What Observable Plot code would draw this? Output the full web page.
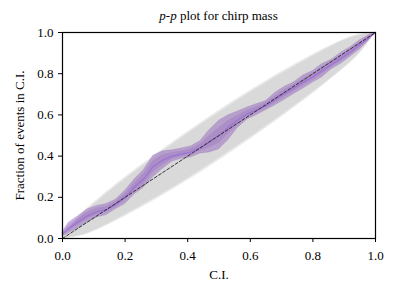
<!DOCTYPE html>
<html>
<head>
<meta charset="utf-8">
<script src="https://cdn.jsdelivr.net/npm/d3@7"></script>
<script src="https://cdn.jsdelivr.net/npm/@observablehq/plot@0.6"></script>
<style>
  body { margin: 0; background: white; font-family: "Liberation Serif", serif; }
  #title { height: 26px; box-sizing: border-box; padding-top: 7px; line-height: 18px; font-size: 13px; margin-left: 62px; width: 313px; text-align: center; color: #000; }
</style>
</head>
<body>
<div id="title"><i>p</i>-<i>p</i> plot for chirp mass</div>
<div id="chart"></div>
<script>
// Confidence band (grey)
const bandX      = [0, 0.05, 0.1, 0.2, 0.3, 0.4, 0.5, 0.6, 0.7, 0.8, 0.9, 0.95, 1];
const outerLo    = [0, 0.005, 0.03, 0.105, 0.19, 0.28, 0.378, 0.48, 0.59, 0.70, 0.825, 0.89, 1];
const outerHi    = [0, 0.11, 0.175, 0.30, 0.41, 0.52, 0.622, 0.72, 0.81, 0.895, 0.97, 0.995, 1];
const innerLo    = [0, 0.01, 0.035, 0.115, 0.20, 0.29, 0.39, 0.49, 0.60, 0.71, 0.83, 0.895, 1];
const innerHi    = [0, 0.10, 0.165, 0.29, 0.40, 0.51, 0.61, 0.71, 0.80, 0.885, 0.965, 0.99, 1];

// p-p curve (purple) with its spread
const ppX   = [0, 0.02, 0.05, 0.08, 0.11, 0.14, 0.17, 0.2, 0.23, 0.26, 0.29, 0.32, 0.35, 0.38, 0.41, 0.44, 0.47, 0.5, 0.53, 0.56, 0.59, 0.62, 0.65, 0.68, 0.71, 0.74, 0.77, 0.8, 0.83, 0.86, 0.89, 0.92, 0.95, 0.98, 1];
const ppMid = [0.02, 0.05, 0.08, 0.11, 0.13, 0.14, 0.165, 0.2, 0.25, 0.29, 0.35, 0.38, 0.40, 0.41, 0.42, 0.44, 0.47, 0.50, 0.54, 0.575, 0.605, 0.625, 0.645, 0.675, 0.705, 0.73, 0.76, 0.785, 0.815, 0.845, 0.875, 0.905, 0.94, 0.975, 1];
const ppLo  = [0.008, 0.025, 0.05, 0.078, 0.102, 0.113, 0.142, 0.168, 0.213, 0.247, 0.298, 0.337, 0.372, 0.387, 0.393, 0.412, 0.418, 0.432, 0.478, 0.537, 0.577, 0.598, 0.622, 0.647, 0.673, 0.702, 0.728, 0.757, 0.783, 0.822, 0.848, 0.882, 0.918, 0.962, 1];
const ppHi  = [0.032, 0.077, 0.108, 0.142, 0.158, 0.167, 0.188, 0.232, 0.287, 0.333, 0.402, 0.423, 0.428, 0.437, 0.447, 0.472, 0.527, 0.571, 0.598, 0.617, 0.636, 0.652, 0.668, 0.707, 0.737, 0.758, 0.792, 0.813, 0.847, 0.868, 0.902, 0.928, 0.962, 0.988, 1];
const ppLo2 = [0.014, 0.037, 0.064, 0.094, 0.114, 0.127, 0.152, 0.184, 0.23, 0.265, 0.322, 0.355, 0.384, 0.397, 0.406, 0.424, 0.44, 0.462, 0.507, 0.553, 0.588, 0.611, 0.631, 0.658, 0.688, 0.713, 0.743, 0.768, 0.798, 0.831, 0.861, 0.891, 0.929, 0.968, 1];
const ppHi2 = [0.026, 0.064, 0.097, 0.127, 0.147, 0.154, 0.179, 0.217, 0.27, 0.315, 0.378, 0.405, 0.417, 0.424, 0.434, 0.457, 0.5, 0.538, 0.573, 0.597, 0.622, 0.639, 0.659, 0.692, 0.722, 0.747, 0.777, 0.802, 0.832, 0.859, 0.889, 0.919, 0.951, 0.982, 1];

const diagX = [0, 1];
const ticks = [0, 0.2, 0.4, 0.6, 0.8, 1.0];

const band = bandX.map((x, i) => ({x, olo: outerLo[i], ohi: outerHi[i], ilo: innerLo[i], ihi: innerHi[i]}));
const pp = ppX.map((x, i) => ({x, mid: ppMid[i], lo: ppLo[i], hi: ppHi[i], lo2: ppLo2[i], hi2: ppHi2[i]}));
const diag = diagX.map(v => ({x: v, y: v}));
const fmt = d3.format(".1f");

const chart = Plot.plot({
  width: 397,
  height: 270,
  marginLeft: 62,
  marginRight: 22,
  marginTop: 6,
  marginBottom: 58,
  style: {fontFamily: "Liberation Serif, serif", fontSize: "13px", color: "black", background: "white", overflow: "visible"},
  x: {domain: [0, 1]},
  y: {domain: [0, 1]},
  marks: [
    Plot.areaY(band, {x: "x", y1: "olo", y2: "ohi", fill: "#e9e9e9", curve: "basis"}),
    Plot.areaY(band, {x: "x", y1: "ilo", y2: "ihi", fill: "#d9d9d9", curve: "basis"}),
    Plot.areaY(pp, {x: "x", y1: "lo", y2: "hi", fill: "#9467bd", fillOpacity: 0.5, stroke: "#9467bd", strokeOpacity: 0.35, strokeWidth: 0.6, curve: "linear"}),
    Plot.areaY(pp, {x: "x", y1: "lo2", y2: "hi2", fill: "#9467bd", fillOpacity: 0.3, curve: "linear"}),
    Plot.line(pp, {x: "x", y: "mid", stroke: "#9c72d6", strokeWidth: 1.2}),
    Plot.line(diag, {x: "x", y: "y", stroke: "#222", strokeWidth: 0.9, strokeDasharray: "3,2"}),
    Plot.axisX({ticks, tickFormat: fmt, tickSize: 4, tickPadding: 8, fontSize: 13,
      label: "C.I.", labelAnchor: "center", labelOffset: 40, labelArrow: "none"}),
    Plot.axisY({ticks, tickFormat: fmt, tickSize: 4, tickPadding: 5, fontSize: 13,
      label: "Fraction of events in C.I.", labelAnchor: "center", labelOffset: 48, labelArrow: "none"}),
    Plot.frame({stroke: "black", strokeWidth: 1.2})
  ]
});
document.getElementById("chart").appendChild(chart);
</script>
</body>
</html>
